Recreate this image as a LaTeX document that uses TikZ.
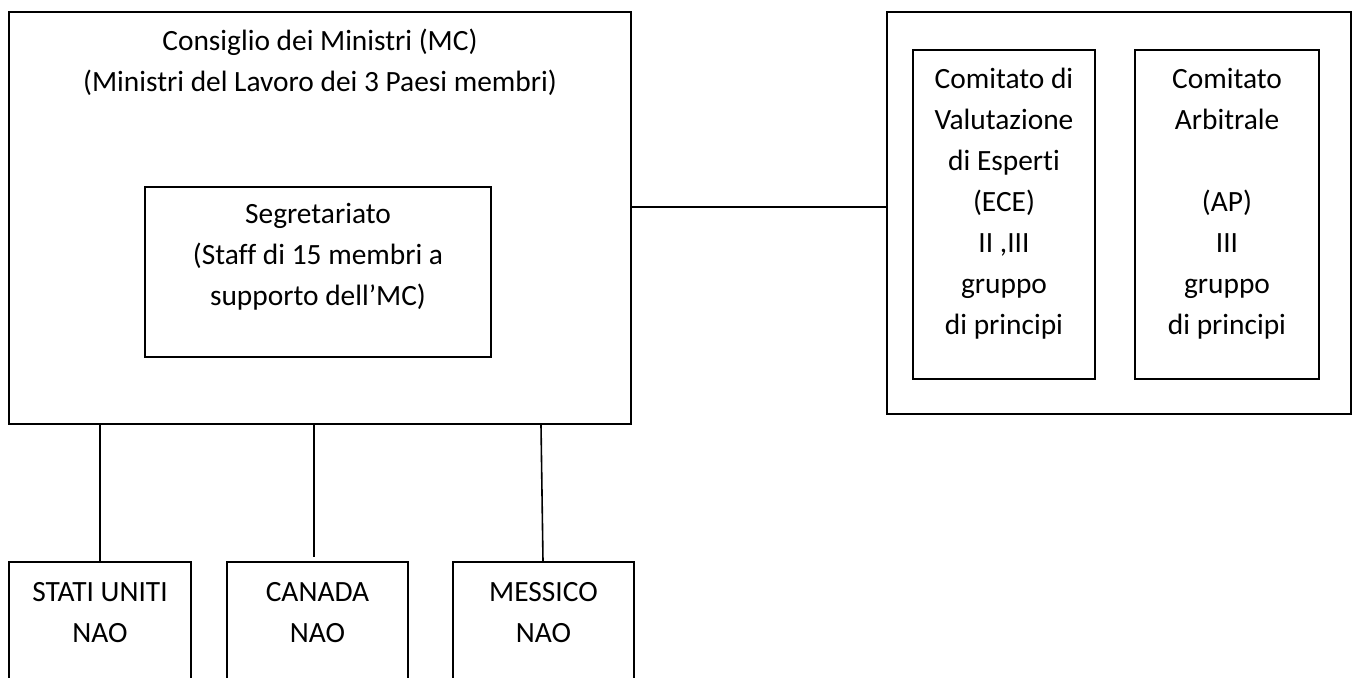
\documentclass[tikz,border=0pt]{standalone}
\usepackage{fontspec}
\setmainfont{Carlito}[Ligatures=NoCommon]
\begin{document}
\begin{tikzpicture}[x=0.5pt,y=-0.5pt,line width=0.8pt,
    every node/.style={font=\fontsize{14.7}{20.5}\selectfont,align=center,inner sep=0pt},
    box/.style 2 args={draw,minimum width=#1*0.5pt,minimum height=#2*0.5pt}]
    \useasboundingbox (0,0) rectangle (1357,677);
    % Consiglio and Segretariato
    \node [box={622}{412}] (A0_0) at (320,218) {};
    \node (T0_0) at (320,62) {Consiglio dei Ministri (MC)\\(Ministri del Lavoro dei 3 Paesi membri)};
    \node [box={346}{170}] (A1_0) at (318,272) {};
    \node (T1_0) at (318,257) {Segretariato\\(Staff di 15 membri a\\supporto dell’MC)};
    % Comitati
    \node [box={464}{402}] (A0_2) at (1119,213) {};
    \node [box={182}{329}] (A0_3) at (1004,214.5) {};
    \node (T0_3) at (1004,204) {Comitato di\\Valutazione\\di Esperti\\(ECE)\\II ,III\\gruppo\\di principi};
    \node [box={184}{329}] (A0_4) at (1227,214.5) {};
    \node (T0_4) at (1227,204) {Comitato\\Arbitrale\\~\\(AP)\\III\\gruppo\\di principi};
    % NAO
    \node [box={182}{140}] (A2_0) at (100,632) {};
    \node (T2_0) at (100,612.5) {STATI UNITI\\NAO};
    \node [box={181}{140}] (A2_1) at (317.5,632) {};
    \node (T2_1) at (317.5,612.5) {CANADA\\NAO};
    \node [box={181}{140}] (A2_2) at (543.5,632) {};
    \node (T2_2) at (543.5,612.5) {MESSICO\\NAO};
    \coordinate (L0) at (760,207);
    \coordinate (L1) at (314,557);
    \path (A0_0.east |- L0) edge [draw] (A0_2.west |- L0);
    \path (A0_0.south -| A2_0) edge [draw] (A2_0.north);
    \path (A0_0.south -| L1) edge [draw] (L1);
    \path ([xshift=-1.25pt]A0_0.south -| A2_2) edge [draw] ([xshift=-0.25pt]A2_2.north);
  \end{tikzpicture}
\end{document}
